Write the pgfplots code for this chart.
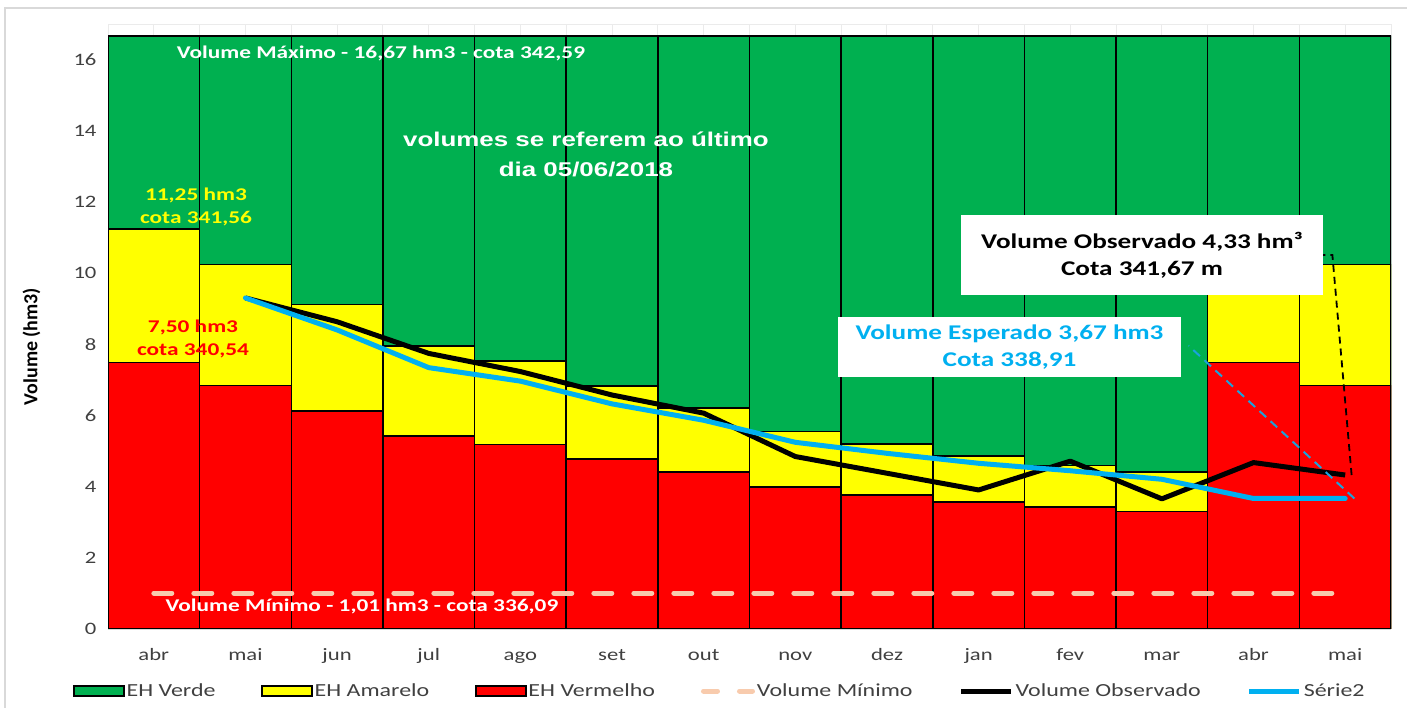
\documentclass[border=0pt]{standalone}
\usepackage{fontspec}
\setmainfont{Carlito}[FakeStretch=1.3]
\newfontfamily\arialfont{Liberation Sans}[FakeStretch=1.3]
\newfontfamily\calplain{Carlito}
\usepackage{pgfplots}
\usepackage{pgfplotstable}
\pgfplotsset{compat=1.18}
\definecolor{cgreen}{HTML}{00B050}
\definecolor{cyellow}{HTML}{FFFF00}
\definecolor{cred}{HTML}{FF0000}
\definecolor{cblue}{HTML}{00B0F0}
\definecolor{cblued}{HTML}{1AA3DC}
\definecolor{cpeach}{HTML}{F8CBAD}
\definecolor{cgrid}{HTML}{D9D9D9}
\definecolor{cgridl}{HTML}{EBEBEB}
\definecolor{ctext}{HTML}{404040}

\pgfplotstableread{
x red yel grn obs esp
0 7.50 11.25 16.67 nan nan
1 6.85 10.25 16.67 9.31 9.31
2 6.13 9.12 16.67 8.64 8.41
3 5.43 7.96 16.67 7.75 7.35
4 5.19 7.54 16.67 7.24 6.97
5 4.78 6.83 16.67 6.58 6.33
6 4.42 6.22 16.67 6.07 5.87
7 3.99 5.55 16.67 4.85 5.25
8 3.77 5.20 16.67 4.38 4.94
9 3.57 4.86 16.67 3.91 4.66
10 3.43 4.60 16.67 4.72 4.45
11 3.30 4.41 16.67 3.66 4.21
12 7.50 11.25 16.67 4.68 3.67
13 6.85 10.25 16.67 4.33 3.67
}\data

\begin{document}
\begin{tikzpicture}[x=1bp,y=1bp]
\path[use as bounding box] (0,0) rectangle (1407,707);
\draw[cgrid, line width=1.5bp] (5,-5) -- (5,699) -- (1412,699);
\begin{axis}[
  at={(108bp,78bp)}, anchor=south west,
  width=1283bp, height=604.5bp, scale only axis,
  xmin=-0.5, xmax=13.5, ymin=0, ymax=17,
  axis x line*=bottom, axis y line*=left,
  x axis line style={cgrid, line width=1.5bp},
  y axis line style={draw=none},
  xtick={0,...,13},
  xticklabels={abr,mai,jun,jul,ago,set,out,nov,dez,jan,fev,mar,abr,mai},
  ytick={0,2,...,16},
  minor xtick={-0.5,0.5,...,13.5},
  xmajorgrids, xminorgrids,
  extra y ticks={17}, extra y tick labels={}, extra y tick style={grid=major},
  grid style={cgridl, line width=1bp},
  minor grid style={cgridl, line width=1bp},
  major tick length=0pt, minor tick length=0pt,
  tick style={draw=none},
  /pgf/number format/assume math mode=true,
  ticklabel style={font=\fontsize{17.5}{20}\selectfont, text=ctext},
  xticklabel style={anchor=base, yshift=-32bp},
  yticklabel style={xshift=-8bp},
  legend columns=6,
  legend style={at={(axis description cs:0.477,-0.1026)}, anchor=center,
    draw=none, fill=none, font=\fontsize{18.5}{20}\selectfont, text=ctext,
    /tikz/every even column/.append style={column sep=44bp},
    inner sep=0pt},
]
\addlegendimage{legend image code/.code={\draw[fill=cgreen,draw=black,line width=1.2bp] (0bp,-5bp) rectangle (50bp,5bp);}}
\addlegendentry{EH Verde}
\addlegendimage{legend image code/.code={\draw[fill=cyellow,draw=black,line width=1.2bp] (0bp,-5bp) rectangle (50bp,5bp);}}
\addlegendentry{EH Amarelo}
\addlegendimage{legend image code/.code={\draw[fill=cred,draw=black,line width=1.2bp] (0bp,-5bp) rectangle (50bp,5bp);}}
\addlegendentry{EH Vermelho}
\addlegendimage{legend image code/.code={\draw[cpeach,line width=5bp,line cap=round,dash pattern=on 14bp off 22bp] (6bp,0bp) -- (55bp,0bp);}}
\addlegendentry{Volume Mínimo}
\addlegendimage{legend image code/.code={\draw[black,line width=5bp] (0bp,0bp) -- (50bp,0bp);}}
\addlegendentry{Volume Observado}
\addlegendimage{legend image code/.code={\draw[cblue,line width=5bp] (0bp,0bp) -- (50bp,0bp);}}
\addlegendentry{Série2}

\addplot[ybar, bar width=1, bar shift=0pt, fill=cgreen, draw=black, line width=1.5bp, forget plot] table[x=x,y=grn]{\data};
\addplot[ybar, bar width=1, bar shift=0pt, fill=cyellow, draw=black, line width=1.5bp, forget plot] table[x=x,y=yel]{\data};
\addplot[ybar, bar width=1, bar shift=0pt, fill=cred, draw=black, line width=1.5bp, forget plot] table[x=x,y=red]{\data};

\addplot[cpeach, line width=5bp, line cap=round, dash pattern=on 18bp off 22bp, forget plot] coordinates {(0,1.01) (13,1.01)};
\addplot[black, line width=5bp, line join=round, forget plot] table[x=x,y=obs]{\data};
\addplot[cblue, line width=5bp, line join=round, line cap=round, forget plot] table[x=x,y=esp]{\data};

\draw[black, line width=1.8bp, dash pattern=on 7bp off 5bp] (axis cs:13.07,4.33) -- (axis cs:12.86,10.52) -- (axis cs:12.76,10.52);
\draw[cblued, line width=2bp, dash pattern=on 9bp off 6bp] (axis cs:13.1,3.67) -- (axis cs:11.29,7.97);
\end{axis}

\node[text=white, font=\bfseries\fontsize{18}{20}\selectfont] at (381,654) {Volume Máximo - 16,67 hm3 - cota 342,59};
\node[text=white, font=\arialfont\bfseries\fontsize{20}{30}\selectfont, align=center] at (586,552.5) {volumes se referem ao último\\dia 05/06/2018};
\node[text=cyellow, font=\bfseries\fontsize{18}{23}\selectfont, align=center] at (196,500.5) {11,25 hm3\\cota 341,56};
\node[text=cred, font=\bfseries\fontsize{18}{23}\selectfont, align=center] at (193,368.5) {7,50 hm3\\cota 340,54};
\node[text=white, font=\bfseries\fontsize{18}{20}\selectfont] at (362,101) {Volume Mínimo - 1,01 hm3 - cota 336,09};
\node[fill=white, text=black, minimum width=362bp, minimum height=80bp, inner sep=0pt, font=\bfseries\fontsize{21}{27}\selectfont, align=center] at (1142,452) {Volume Observado 4,33 hm³\\Cota 341,67 m};
\node[fill=white, text=cblue, minimum width=343bp, minimum height=60bp, inner sep=0pt, font=\bfseries\fontsize{21}{27}\selectfont, align=center] at (1009.5,360) {Volume Esperado 3,67 hm3\\Cota 338,91};
\node[rotate=90, text=black, font=\calplain\bfseries\fontsize{20}{22}\selectfont] at (31.5,360.5) {Volume (hm3)};
\end{tikzpicture}
\end{document}
